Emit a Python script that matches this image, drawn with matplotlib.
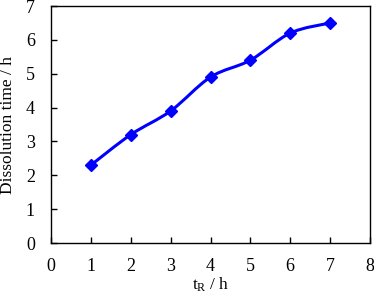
import numpy as np
import matplotlib
matplotlib.use("Agg")
import matplotlib.pyplot as plt
from matplotlib.path import Path
from matplotlib.patches import PathPatch

plt.rcParams['font.family'] = ['Liberation Serif', 'DejaVu Serif']
plt.rcParams['mathtext.fontset'] = 'custom'
plt.rcParams['mathtext.rm'] = 'Liberation Serif'

t_r = [1, 2, 3, 4, 5, 6, 7]
dissolution = [2.3, 3.2, 3.9, 4.9, 5.4, 6.2, 6.5]


def smooth_path(x, y, k=1 / 6):
    # Excel-like smoothed line: bezier segments with catmull-rom handles
    x = np.asarray(x, float)
    y = np.asarray(y, float)
    verts = [(x[0], y[0])]
    codes = [Path.MOVETO]
    n = len(x)
    for i in range(n - 1):
        i0 = max(i - 1, 0)
        i3 = min(i + 2, n - 1)
        c1 = (x[i] + (x[i + 1] - x[i0]) * k, y[i] + (y[i + 1] - y[i0]) * k)
        c2 = (x[i + 1] - (x[i3] - x[i]) * k, y[i + 1] - (y[i3] - y[i]) * k)
        verts += [c1, c2, (x[i + 1], y[i + 1])]
        codes += [Path.CURVE4] * 3
    return Path(verts, codes)


fig = plt.figure(figsize=(3.74, 2.97), dpi=100)
ax = fig.add_axes([51 / 374, 1 - 243 / 297, 319 / 374, 237 / 297])

ax.add_patch(PathPatch(smooth_path(t_r, dissolution), facecolor='none',
                       edgecolor='#0000ff', lw=2.2))
ax.plot(t_r, dissolution, ls='none', marker='D', ms=6, color='#0000ff')

ax.set_xlim(0, 8)
ax.set_ylim(0, 7)
ax.set_xticks(range(0, 9))
ax.set_yticks(range(0, 8))
ax.tick_params(direction='in', length=4, width=1, labelsize=13,
               top=False, right=False)
ax.tick_params(axis='y', pad=11.5)
ax.tick_params(axis='x', pad=10.5)
for s in ax.spines.values():
    s.set_linewidth(1)
ax.set_xlabel(r'$\mathrm{t_R}$ / h', fontsize=12.5, labelpad=1)
ax.set_ylabel('Dissolution time / h', fontsize=12.5, labelpad=7)

fig.savefig("out.png", dpi=100)
